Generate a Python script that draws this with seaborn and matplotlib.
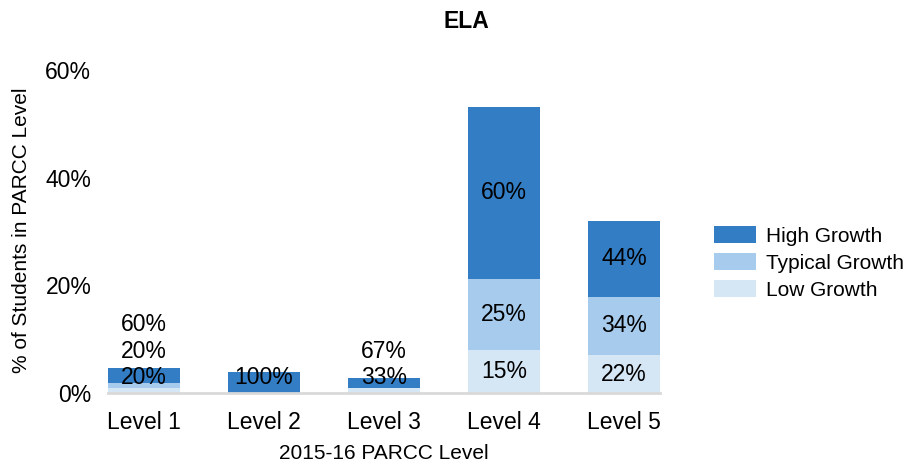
import matplotlib.pyplot as plt
import pandas as pd
import seaborn as sns
from matplotlib.patches import Patch

# values
levels = ["Level 1", "Level 2", "Level 3", "Level 4", "Level 5"]
bar_totals = [4.7, 3.85, 2.75, 53.1, 32.0]  # % of students in each PARCC level
low_share = [20, 0, 33, 15, 22]  # share of each bar, in %
typical_share = [20, 0, 0, 25, 34]
high_share = [60, 100, 67, 60, 44]

series = ["Low Growth", "Typical Growth", "High Growth"]
colors = {"High Growth": "#337dc5", "Typical Growth": "#a6cbec", "Low Growth": "#d5e6f5"}

sns.set_style("white")
plt.rcParams["font.family"] = ["Liberation Sans", "DejaVu Sans"]
plt.rcParams["text.color"] = "black"
plt.rcParams["axes.labelcolor"] = "black"

shares = {"Low Growth": low_share, "Typical Growth": typical_share, "High Growth": high_share}
rows = []
for i, lvl in enumerate(levels):
    bottom = 0.0
    for name in series:
        h = bar_totals[i] * shares[name][i] / 100
        rows.append({"level": lvl, "series": name, "share": shares[name][i],
                     "bottom": bottom, "top": bottom + h})
        bottom += h
df = pd.DataFrame(rows)

fig = plt.figure(figsize=(9.19, 4.75), dpi=100)
ax = fig.add_axes([108 / 919, 82 / 475, 552 / 919, 323 / 475])

# stacked look: draw cumulative tops from the highest series down
for name in reversed(series):
    sub = df[df["series"] == name]
    sns.barplot(data=sub, x="level", y="top", order=levels, color=colors[name],
                width=0.6, saturation=1, errorbar=None, linewidth=0, ax=ax)

# percentage labels, nudged up when a segment is too thin to hold them
for i, lvl in enumerate(levels):
    prev = None
    for name in series:
        r = df[(df["level"] == lvl) & (df["series"] == name)].iloc[0]
        if r["share"] == 0:
            continue
        y = max((r["bottom"] + r["top"]) / 2, 2.8)
        if prev is not None:
            y = max(y, prev + 5.0)
        ax.text(i, y, f"{r['share']}%", ha="center", va="center", fontsize=16.5, color="black")
        prev = y

ax.set_xlim(-0.3, 4.3)
ax.set_ylim(0, 60)
ax.set_yticks([0, 20, 40, 60])
ax.set_yticklabels(["0%", "20%", "40%", "60%"])
ax.tick_params(axis="y", length=0, pad=12, labelsize=16.5, labelcolor="black")
ax.tick_params(axis="x", length=5, width=1.2, color="#d9d9d9", pad=8, labelsize=16.5,
               labelcolor="black")
for side in ["top", "right", "left"]:
    ax.spines[side].set_visible(False)
ax.spines["bottom"].set_color("#d9d9d9")
ax.spines["bottom"].set_linewidth(2)

ax.set_xlabel("2015-16 PARCC Level", fontsize=15, labelpad=7)
ax.set_ylabel("")
fig.text(22 / 919, 1 - 230 / 475, "% of Students in PARCC Level", rotation=90,
         ha="center", va="center", fontsize=15)
fig.text(466 / 919, 1 - 21 / 475, "ELA", ha="center", va="center",
         fontsize=16.5, fontweight="bold")

handles = [Patch(facecolor=colors[n], edgecolor="none", label=n) for n in reversed(series)]
fig.legend(handles=handles, loc="upper left", bbox_to_anchor=(714 / 919, 1 - 226 / 475),
           frameon=False, fontsize=15, handlelength=2.0, handleheight=0.87,
           handletextpad=0.48, labelspacing=0.36, borderpad=0, borderaxespad=0)

fig.savefig("out.png", dpi=100)
